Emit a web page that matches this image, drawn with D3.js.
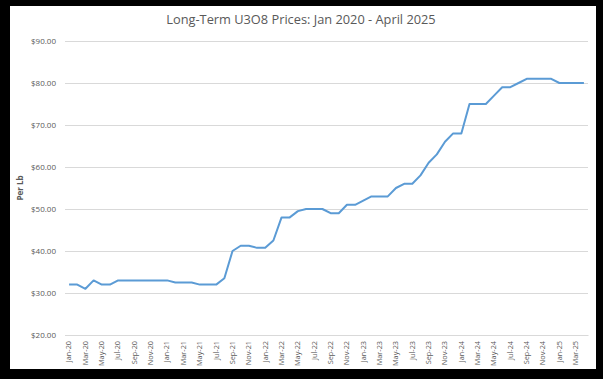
<!DOCTYPE html>
<html lang="en">
<head>
<meta charset="UTF-8">
<title>Long-Term U3O8 Prices</title>
<style>
  html, body { margin: 0; padding: 0; background: #000; }
  svg { display: block; }
  text { font-family: "Open Sans", "Noto Sans", sans-serif; fill: #595959; }
</style>
</head>
<body>
<div id="chart"></div>
<script src="https://d3js.org/d3.v7.min.js"></script>
<script>
// monthly labels, Jan 2020 - Apr 2025
var months = ["Jan-20","Feb-20","Mar-20","Apr-20","May-20","Jun-20","Jul-20","Aug-20","Sep-20","Oct-20","Nov-20","Dec-20",
              "Jan-21","Feb-21","Mar-21","Apr-21","May-21","Jun-21","Jul-21","Aug-21","Sep-21","Oct-21","Nov-21","Dec-21",
              "Jan-22","Feb-22","Mar-22","Apr-22","May-22","Jun-22","Jul-22","Aug-22","Sep-22","Oct-22","Nov-22","Dec-22",
              "Jan-23","Feb-23","Mar-23","Apr-23","May-23","Jun-23","Jul-23","Aug-23","Sep-23","Oct-23","Nov-23","Dec-23",
              "Jan-24","Feb-24","Mar-24","Apr-24","May-24","Jun-24","Jul-24","Aug-24","Sep-24","Oct-24","Nov-24","Dec-24",
              "Jan-25","Feb-25","Mar-25","Apr-25"];

// long-term price, USD per lb
var prices = [32, 32, 31, 33, 32, 32, 33, 33, 33, 33, 33, 33,
              33, 32.5, 32.5, 32.5, 32, 32, 32, 33.5, 40, 41.25, 41.25, 40.75,
              40.75, 42.5, 48, 48, 49.5, 50, 50, 50, 49, 49, 51, 51,
              52, 53, 53, 53, 55, 56, 56, 58, 61, 63, 66, 68,
              68, 75, 75, 75, 77, 79, 79, 80, 81, 81, 81, 81,
              80, 80, 80, 80];

var yTicks = [20, 30, 40, 50, 60, 70, 80, 90];

var W = 603, H = 379;
var margin = {top: 41, right: 15, bottom: 44, left: 65},
    width = 588 - margin.left,
    height = 335 - margin.top;

var svg = d3.select("#chart").append("svg")
    .attr("width", W)
    .attr("height", H);

// white chart area inside black frame
svg.append("rect")
    .attr("x", 10).attr("y", 6)
    .attr("width", 586).attr("height", 363)
    .attr("fill", "#fff");

// title
svg.append("text")
    .attr("x", 301)
    .attr("y", 24)
    .attr("text-anchor", "middle")
    .style("font-size", "12.8px")
    .text("Long-Term U3O8 Prices: Jan 2020 - April 2025");

var g = svg.append("g")
    .attr("transform", "translate(" + margin.left + "," + margin.top + ")");

var x = d3.scaleBand()
    .domain(months)
    .range([0, width])
    .padding(0);

var y = d3.scaleLinear()
    .domain([20, 90])
    .range([height, 0]);

// y axis with gridlines
var yAxis = g.append("g")
    .call(d3.axisLeft(y)
      .tickValues(yTicks)
      .tickSize(-width)
      .tickPadding(9)
      .tickFormat(d3.format("$.2f")));
yAxis.select(".domain").remove();
yAxis.selectAll(".tick line").attr("stroke", "#d9d9d9").attr("stroke-width", 1);
yAxis.selectAll(".tick text")
    .style("font-size", "8px")
    .attr("fill", "#595959");

// x axis: every second month labelled
var xAxis = g.append("g")
    .attr("transform", "translate(0," + height + ")")
    .call(d3.axisBottom(x)
      .tickValues(months.filter(function(d, i) { return i % 2 === 0; }))
      .tickSize(0)
      .tickSizeOuter(0));
xAxis.select(".domain").attr("stroke", "#d9d9d9");
xAxis.selectAll(".tick text")
    .attr("transform", "rotate(-90)")
    .attr("text-anchor", "end")
    .attr("x", -6)
    .attr("y", 0)
    .attr("dy", "0.32em")
    .style("font-size", "7.3px")
    .attr("fill", "#595959");

// y axis title
svg.append("text")
    .attr("transform", "translate(23," + (margin.top + height / 2) + ") rotate(-90)")
    .attr("text-anchor", "middle")
    .style("font-size", "8px")
    .style("font-weight", "bold")
    .text("Per Lb");

// price line
var line = d3.line()
    .x(function(d, i) { return x(months[i]) + x.bandwidth() / 2; })
    .y(function(d) { return y(d); });

g.append("path")
    .datum(prices)
    .attr("fill", "none")
    .attr("stroke", "#5b9bd5")
    .attr("stroke-width", 2)
    .attr("stroke-linejoin", "round")
    .attr("d", line);
</script>
</body>
</html>
